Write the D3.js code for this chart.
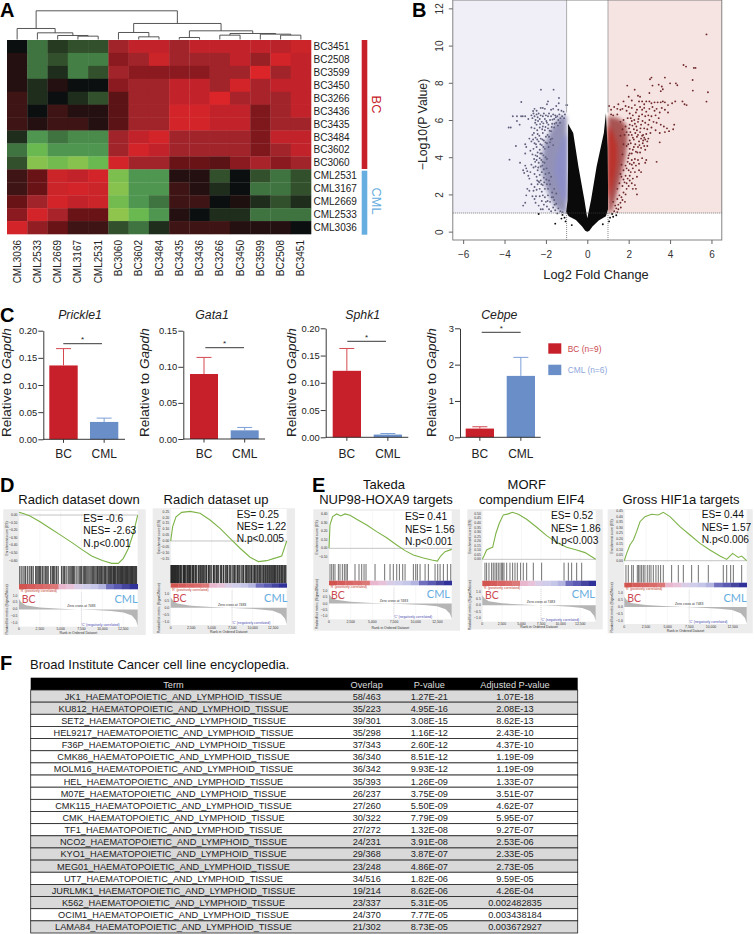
<!DOCTYPE html>
<html>
<head>
<meta charset="utf-8">
<script src="https://cdn.jsdelivr.net/npm/d3@7"></script>
<style>
  html, body { margin: 0; padding: 0; background: #fff; }
  svg { display: block; font-family: "Liberation Sans", Arial, sans-serif; }
</style>
</head>
<body>
<div id="chart"></div>
<script>
// panel A
const heatCols = ['CML3036', 'CML2533', 'CML2669', 'CML3167', 'CML2531', 'BC3060', 'BC3602', 'BC3484', 'BC3435', 'BC3436', 'BC3266', 'BC3450', 'BC3599', 'BC2508', 'BC3451'];
const heatRows = ['BC3451', 'BC2508', 'BC3599', 'BC3450', 'BC3266', 'BC3436', 'BC3435', 'BC3484', 'BC3602', 'BC3060', 'CML2531', 'CML3167', 'CML2669', 'CML2533', 'CML3036'];
const heatValues = [
  [0, -.45, -.2, -.3, -.3, .65, .85, .85, .65, .85, .85, .85, .85, .8, .9],
  [.1, -.45, -.3, -.5, -.5, .5, .65, .9, .65, .65, .65, .85, .6, .95, .85],
  [.1, -.45, -.15, -.5, -.3, .65, .5, .5, .5, .5, .65, .65, 1, .65, .85],
  [.1, -.15, .1, 0, 0, .5, .65, .65, .85, .85, .65, .95, .7, .85, .85],
  [.2, -.15, 0, -.15, -.3, .3, .65, .65, .85, .85, 1, .7, .7, .65, .85],
  [.2, 0, .2, .1, .1, .3, .65, .65, .95, .95, .85, .85, .45, .65, .85],
  [.2, .1, .2, .2, .1, .3, .65, .65, .95, .95, .85, .85, .45, .65, .65],
  [-.15, -.6, -.45, -.55, -.55, .65, .85, .95, .65, .65, .65, .65, .45, .85, .85],
  [-.45, -.8, -.6, -.6, -.6, .65, .95, .85, .65, .65, .65, .65, .45, .65, .85],
  [-.3, -.95, -.85, -.95, -.8, .95, .65, .65, .35, .35, .3, .5, .7, .5, .65],
  [.2, .35, .9, .85, .95, -.9, -.6, -.6, .1, .1, -.3, 0, -.3, -.45, -.3],
  [.2, .35, .9, .95, .9, -.95, -.6, -.6, .2, .1, -.15, 0, -.45, -.45, -.3],
  [.35, .65, .95, .85, .9, -.85, -.6, -.45, .2, .2, 0, .08, -.15, -.3, -.15],
  [.5, .95, .7, .35, .35, -1, -.8, -.6, .1, 0, -.15, -.15, -.45, -.45, -.45],
  [.95, .55, .35, .2, .2, -.3, -.45, -.15, .2, .2, .2, .1, .1, .1, 0],
];
// [height, left, right], leaves are column indexes
const dendrogram = [86,
  [33, 0, [20, 1, [12, 2, [10, 3, 4]]]],
  [48,
    [21, 5, [8, 6, 7]],
    [26, [6, 8, 9], [18, [13, 10, 11], [16, 12, [13, 13, 14]]]]]];

// panel B, all in log2 fold change / -log10 p
const blackV = [[0, 0], [-.1, .05], [-.25, .27], [-.55, .62], [-.9, .82], [-1.02, 1.05], [-.95, 1.7], [-.93, 3.5], [-.93, 5.8], [-.68, 5.3], [-.43, 3.5], [-.14, 1.7], [0, .72], [.18, 1.7], [.45, 3.5], [.8, 5.3], [.9, 6.36], [.98, 4.5], [1, 2.5], [1, 1.2], [.9, .82], [.55, .6], [.25, .27], [.1, .05]];
const blueCloud = [[-1, 6.25], [-1.4, 6.1], [-1.8, 5.4], [-2.1, 4.6], [-2.25, 3.5], [-2.05, 2.5], [-1.7, 1.6], [-1.35, 1.1], [-1, 1]];
const blueCore = [[-1, 5.3], [-1.2, 5], [-1.45, 4.2], [-1.6, 3.3], [-1.4, 2.4], [-1.2, 1.8], [-1, 1.5]];
const redCloud = [[1, 6.2], [1.5, 6.1], [1.85, 5.8], [1.95, 5], [1.85, 4], [1.6, 2.8], [1.38, 1.8], [1.2, 1.1], [1, 1]];
const redCore = [[1, 5.8], [1.25, 5.3], [1.45, 4.6], [1.45, 3.8], [1.3, 2.8], [1.12, 2], [1, 1.6]];
const blackSpecks = [[-1.55, .43], [-2.35, .95], [-1.2, .9], [-1.1, .75], [-1.25, .7], [-1.05, .55], [1.1, .75], [1.25, .8], [1.4, .88], [1.05, .55], [1.2, .95], [.75, .4], [-.75, .35]];
const downPoints = [
  [-2.24, 7.63], [-1.63, 7.63], [-3.19, 6.97], [-1.37, 7.18], [-1.38, 6.9], [-1.02, 6.8], [-.97, 6.8], [-1.9, 7], [-1.95, 6.85], [-1.5, 6.75], [-2.05, 6.6], [-2.15, 6.65], [-2.25, 6.65], [-2.45, 6.5], [-2.55, 6.6], [-1.75, 6.55], [-1.65, 6.6], [-1.4, 6.55], [-1.25, 6.5], [-1.15, 6.45],
  [-3.8, 5.6], [-3.7, 5.6], [-3.6, 6.2], [-3.4, 6.2], [-3.4, 5.95], [-3.2, 6.2], [-3.12, 6.2], [-3, 6.2], [-3.27, 5.75], [-3.45, 4.6], [-3.76, 3.87], [-3.25, 3.7], [-3, 4.7], [-2.95, 4.55], [-3, 4.2], [-3, 3.55], [-2.95, 3.4], [-3.1, 3.3], [-3.05, 3.15], [-2.9, 3.25], [-2.85, 3], [-2.75, 3.2], [-2.8, 2.85], [-2.7, 2.55], [-2.9, 2.3], [-2.8, 2.2], [-2.95, 1.95], [-3.1, 1.4], [-3, 1.55], [-2.65, 1.9], [-2.6, 2.2], [-2.55, 1.75], [-2.3, 1.9], [-2.35, 1.4], [-2.25, 1.2],
  [-2.7, 6.25], [-2.65, 6.1], [-2.6, 6.35], [-2.55, 6.2], [-2.5, 6], [-2.45, 6.3], [-2.4, 6.15], [-2.35, 6.35], [-2.3, 6.05], [-2.25, 6.25], [-2.2, 5.9], [-2.15, 6.2], [-2.1, 6.35], [-2.05, 6.05], [-2, 6.25], [-1.95, 5.85], [-1.9, 6.2], [-1.85, 6.35], [-1.8, 6], [-1.75, 6.2], [-1.7, 5.8], [-1.65, 6.3], [-1.6, 6.05], [-1.55, 6.25], [-1.5, 5.85], [-1.45, 6.2], [-1.4, 6], [-1.35, 6.3], [-1.3, 6.1], [-2.85, 6.05], [-2.45, 5.75], [-2.3, 5.6], [-2.55, 5.55], [-2.7, 5.6], [-2.15, 5.65], [-2.05, 5.45], [-1.9, 5.55], [-1.75, 5.4], [-1.6, 5.6],
  [-2.8, 5], [-2.7, 4.85], [-2.65, 5.2], [-2.55, 4.75], [-2.5, 5.05], [-2.45, 4.55], [-2.4, 5.25], [-2.35, 4.85], [-2.3, 4.4], [-2.25, 5], [-2.2, 4.65], [-2.15, 5.3], [-2.1, 4.9], [-2.05, 4.45], [-2, 5.1], [-1.95, 4.75], [-1.85, 5.1], [-1.8, 4.8], [-1.7, 5], [-1.65, 4.65], [-2.75, 4.35], [-2.65, 4.15], [-2.6, 4.45], [-2.5, 4.1], [-2.45, 3.85], [-2.4, 4.25], [-2.35, 3.7], [-2.3, 3.95], [-2.25, 3.5], [-2.2, 4.2], [-2.15, 3.75], [-2.1, 3.35], [-2.7, 3.6], [-2.6, 3.45], [-2.55, 3.1], [-2.5, 3.5], [-2.45, 2.95], [-2.4, 3.3], [-2.35, 2.7], [-2.3, 3.05], [-2.25, 2.75], [-2.2, 3.2], [-2.15, 2.5], [-2.1, 2.9], [-2.05, 2.3], [-2.55, 2.4], [-2.45, 2.25], [-2.4, 2.55], [-2.3, 2.3], [-2.2, 2.15], [-2.15, 1.95], [-2.05, 1.85], [-2, 1.6], [-2.1, 1.45], [-1.95, 1.35], [-1.9, 1.95], [-1.85, 1.2], [-1.8, 1.6], [-1.75, 1.1], [-1.65, 1.3], [-1.55, 1.15], [-1.45, .98], [-1.7, 2.1], [-1.65, 1.85], [-1.5, 1.5], [-1.9, 2.3], [-1.8, 2.55],
  [-2.62, 6.48], [-2.52, 5.85], [-2.38, 5.95], [-2.42, 5.45], [-2.28, 5.78], [-2.18, 5.5], [-2.12, 5.82], [-2.02, 5.62], [-1.98, 5.95], [-1.88, 5.75], [-1.82, 5.42], [-1.72, 5.62], [-1.68, 6.02], [-1.58, 5.8], [-1.52, 6.15], [-1.42, 5.7], [-1.32, 5.85], [-1.22, 6.2], [-1.12, 6.1], [-1.08, 6.3], [-2.62, 4.95], [-2.58, 5.3], [-2.48, 4.7], [-2.42, 4.95], [-2.32, 5.15], [-2.27, 4.7], [-2.17, 4.95], [-2.12, 4.55], [-2.02, 4.8], [-1.92, 5.2], [-1.87, 4.55], [-1.77, 4.95], [-2.57, 3.9], [-2.52, 3.75], [-2.42, 4.05], [-2.37, 3.45], [-2.27, 4.2], [-2.22, 3.85], [-2.17, 3.55], [-2.12, 4.1], [-2.07, 3.7], [-2.02, 4], [-1.97, 3.4], [-1.95, 3.9], [-2.02, 3.1], [-1.98, 2.8], [-2.08, 2.65], [-2.22, 2.55], [-2.32, 2.65], [-2.42, 2.75], [-1.95, 2.55], [-1.85, 2.75], [-1.85, 3.15], [-1.75, 2.95], [-1.72, 1.85], [-1.6, 1.7], [-1.92, 1.65], [-1.58, 1.45], [-1.4, 1.25], [-1.3, 1.1], [-1.2, 1.05], [-1.5, 2.05], [-1.6, 2.3], [-2.5, 1.55], [-2.48, 1.9], [-2.2, 1.65], [-2.15, 1.2]
];
const upPoints = [
  [5.76, 10.6], [4.65, 8.96], [4.77, 8.87], [5.15, 8.8], [5.23, 8.8], [3.03, 8.19], [3.1, 8.28], [3.75, 8.28], [4, 7.97], [4.28, 7.97], [4.35, 7.87], [5.09, 8.15], [5.1, 7.58], [5.83, 7.49], [5.76, 6.99], [1.93, 7.85], [2.29, 7.63], [3.15, 7.85], [3.6, 7.8], [3.65, 7.65], [3.55, 7.55], [3.45, 7.9], [3, 7.45], [2.45, 7.3], [2.55, 7.25], [2, 7.25], [2.15, 7.05], [1.75, 7], [2.5, 7], [2.65, 7], [2.75, 6.85], [2.85, 7], [3, 7], [3.1, 6.9], [3.25, 6.95], [3.4, 6.95], [3.55, 6.95], [3.65, 7], [3.75, 6.95], [3.9, 6.8], [4.1, 6.9], [4.25, 7], [4.6, 7], [4.7, 6.85], [4.8, 6.8],
  [1.3, 6.7], [1.5, 6.85], [1.7, 6.6], [1.85, 6.75], [2, 6.7], [2.15, 6.65], [2.3, 6.8], [2.4, 6.55], [2.55, 6.7], [2.65, 6.55], [2.75, 6.65], [2.85, 6.45], [3, 6.6], [3.15, 6.7], [3.25, 6.5], [3.35, 6.6], [3.5, 6.4], [3.6, 6.65], [3.75, 6.55], [3.9, 6.4], [2.05, 6.35], [2.2, 6.25], [2.35, 6.4], [2.5, 6.2], [2.65, 6.3], [2.8, 6.2], [2.95, 6.25], [3.1, 6.2], [3.3, 6.25], [3.45, 6.1],
  [3.2, 5.9], [3.35, 5.85], [3.55, 5.75], [3.7, 5.65], [3.85, 5.55], [4.2, 5.75], [4.15, 5.5], [3.95, 5.4], [3.75, 5.35], [3.5, 5.3], [3.3, 5.45], [3.1, 5.6], [2.95, 5.75], [2.8, 5.85], [2.6, 5.75], [2.45, 5.9], [2.3, 5.8], [2.15, 5.95], [2.05, 5.75], [2.25, 5.5], [2.4, 5.45], [2.55, 5.35], [2.7, 5.2], [2.85, 5.25], [2.95, 5], [2.8, 4.95], [2.7, 4.9], [2.6, 5], [2.5, 4.85], [2.4, 5.1], [2.25, 4.95], [2.15, 5.2], [2.05, 4.9], [3.5, 4.8], [3.05, 5.3],
  [2.9, 4.6], [2.8, 4.4], [2.75, 4.6], [2.6, 4.5], [2.55, 4.25], [2.45, 4.55], [2.35, 4.3], [2.25, 4.55], [2.15, 4.2], [2.05, 4.45], [2, 4.1], [2.3, 3.9], [2.45, 3.85], [2.15, 3.85], [2.05, 3.65], [1.95, 3.75], [2.85, 3.85], [2.8, 3.7], [3.35, 3.75], [2.6, 3.2], [2.5, 3.3], [2.3, 3.2], [2.2, 3.4], [2.1, 3.2], [2, 3.3], [1.9, 3.4], [1.85, 3], [1.95, 2.85], [1.8, 2.65], [2.15, 2.6], [2.3, 2.5], [2.2, 2.3], [2.4, 2], [1.9, 2.3], [1.75, 2.1], [1.7, 2.45], [1.65, 1.85], [1.55, 1.95], [1.6, 1.55], [1.5, 1.45], [1.45, 1.75], [1.4, 1.25], [1.35, 1.4], [1.3, 1.1], [1.25, 1.6],
  [1.75, 6], [1.85, 5.65], [1.9, 5.35], [1.8, 5.2], [1.75, 4.7], [1.9, 4.6], [1.7, 4.15], [1.85, 3.55], [1.75, 3.3], [1.6, 3.1], [1.65, 3.6], [1.55, 2.6], [1.45, 2.3], [1.6, 5.9], [1.7, 5.5], [1.6, 5.15], [1.25, 6.25], [1.15, 6.3], [1.45, 6.3],
  [1.95, 6.1], [2.02, 5.55], [2.1, 6.1], [2.18, 5.7], [2.27, 6], [2.37, 5.65], [2.47, 6.05], [2.57, 5.55], [2.67, 5.95], [2.75, 5.55], [2.9, 5.5], [3, 6], [2, 5.2], [2.08, 5.35], [2.2, 5.05], [2.32, 5.3], [2.45, 5.2], [2.65, 5.15], [2.75, 5.05], [1.98, 4.7], [2.1, 4.75], [2.2, 4.4], [2.32, 4.7], [2.42, 4.25], [2.52, 4.65], [2.68, 4.75], [2.9, 4.85], [2.05, 4.2], [1.98, 3.95], [2.15, 3.6], [2.25, 3.7], [2.35, 3.55], [2.5, 3.65], [2.65, 3.95], [1.9, 2.6], [2.05, 2.75], [2, 2.45], [1.85, 2], [1.7, 1.7], [1.75, 2.8], [1.65, 2.95], [1.5, 1.2], [1.62, 1.3], [1.82, 1.6], [1.45, 1.05], [2.05, 3], [2.2, 2.85], [2.4, 2.95], [2.35, 2.3], [1.9, 6.5], [1.6, 6.55], [1.45, 6.6], [1.15, 6.55], [1.05, 6.75]
];
const volcanoXTicks = [-6, -4, -2, 0, 2, 4, 6];
const volcanoYTicks = [0, 2, 4, 6, 8, 10, 12];

// panel C
const barGenes = ['Prickle1', 'Gata1', 'Sphk1', 'Cebpe'];
const barGroups = ['BC', 'CML'];
const barValues = [[.136, .032], [.09, .012], [.122, .005], [.24, 1.69]];
const barErrors = [[.167, .039], [.113, .016], [.163, .007], [.29, 2.2]];
const barMaxima = [.2, .15, .2, 3];
const barTicks = [[0, .05, .1, .15, .2], [0, .05, .1, .15], [0, .05, .1, .15, .2], [0, 1, 2, 3]];
const legendLabels = ['BC (n=9)', 'CML (n=6)'];

// panels D and E
const rankTicks = [0, 2500, 5000, 7500, 10000, 12500];
const rankedMetricRanks = [0, 300, 800, 2500, 5000, 7000, 9000, 11000, 12500, 13500, 14000, 14200];
const rankedMetricValues = [.75, .5, .3, .14, .05, 0, -.05, -.12, -.22, -.45, -.8, -1.2];
const bandColors = ['#d2544f', '#d55c5a', '#d86463', '#da6c6c', '#dc7878', '#e8b6cd', '#e8c2d8', '#d8cce6', '#cfcdea', '#c6c6e8', '#b4b4e0', '#6f6fbe', '#5a5ab2', '#45459f', '#31319a'];

const radichDownRanks = [0, 520, 1320, 2520, 3720, 5040, 6320, 7520, 8720, 10000, 11120, 11920, 12520, 13120, 13720, 14240];
const radichDownES = [.035, .02, -.013, -.088, -.175, -.268, -.36, -.452, -.54, -.6, -.636, -.636, -.57, -.44, -.24, 0];
const radichDownHits = [100, 350, 600, 800, 1050, 1300, 1500, 1700, 2000, 2150, 2300, 2450, 2600, 2800, 3000, 3200, 3350, 3500, 3800, 4000, 4150, 4300, 4500, 4700, 5100, 5300, 5450, 5650, 5900, 6100, 6250, 6400, 6550, 6700, 6950, 7200, 7350, 7500, 7700, 7850, 8000, 8150, 8300, 8500, 8650, 8800, 8950, 9100, 9250, 9400, 9500, 9650, 9800, 9900, 10050, 10200, 10300, 10400, 10550, 10700, 10800, 10900, 11000, 11100, 11250, 11350, 11450, 11550, 11650, 11800, 11900, 12000, 12100, 12200, 12300, 12400, 12500, 12600, 12700, 12800, 12900, 13000, 13100, 13200, 13300, 13400, 13500, 13600, 13700, 13800, 13900, 14000, 14100];
const radichUpRanks = [0, 240, 650, 1340, 2360, 3580, 4800, 6020, 7240, 8460, 9680, 10700, 11700, 12930, 13540, 13820, 14150];
const radichUpES = [0, .122, .207, .244, .253, .236, .179, .108, .023, -.062, -.139, -.176, -.168, -.142, -.128, -.071, 0];
const radichUpHits = [30, 110, 180, 260, 340, 430, 500, 590, 660, 750, 830, 920, 1000, 1120, 1210, 1300, 1500, 1580, 1670, 1750, 1850, 2000, 2080, 2200, 2290, 2380, 2470, 2650, 2730, 2810, 2980, 3060, 3180, 3400, 3480, 3650, 3730, 3900, 3990, 4150, 4300, 4380, 4600, 4680, 4800, 4950, 5200, 5280, 5400, 5600, 5680, 5850, 6100, 6180, 6400, 6480, 6700, 6850, 6930, 7150, 7300, 7500, 7700, 7780, 7950, 8150, 8230, 8400, 8600, 8800, 8880, 9100, 9250, 9330, 9500, 9650, 9800, 9880, 10050, 10200, 10280, 10400, 10550, 10650, 10800, 10900, 11000, 11150, 11300, 11400, 11550, 11650, 11800, 11900, 12050, 12150, 12300, 12400, 12550, 12650, 12750, 12850, 13000, 13100, 13250, 13350, 13500, 13600, 13700, 13850, 13950, 14050];
const takedaRanks = [0, 115, 420, 880, 1350, 1850, 2420, 3190, 4350, 5500, 6650, 7810, 8770, 9730, 10880, 11850, 12500, 12880, 13380, 14150];
const takedaES = [0, .275, .373, .404, .38, .404, .388, .341, .275, .196, .125, .039, -.027, -.078, -.114, -.137, -.149, -.09, -.039, -.012];
const takedaHits = [115, 310, 500, 690, 1080, 1270, 1540, 1770, 1960, 2120, 3000, 3460, 3770, 4040, 4270, 5310, 6420, 7040, 7420, 7810, 8120, 8500, 8770, 9730, 10000, 10190, 10500, 11080, 11460, 12230, 12540, 12810, 13190, 13650, 14040];
const morfRanks = [0, 210, 550, 980, 1320, 1740, 2170, 2680, 3320, 3830, 4600, 5660, 6940, 8210, 9490, 10770, 12040, 13110, 14470];
const morfES = [0, .037, .103, .121, .132, .287, .397, .489, .5, .518, .496, .441, .353, .261, .184, .132, .103, .074, 0];
const morfHits = [340, 550, 850, 1190, 1400, 1620, 1830, 2040, 2260, 2470, 2600, 2770, 3110, 3530, 3870, 4170, 4470, 4890, 5230, 5660, 6510, 7570, 10430, 10980, 11400, 12040, 12680];
const grossRanks = [0, 270, 650, 1040, 1420, 1810, 2380, 3150, 3920, 4500, 5270, 6420, 7580, 8730, 9880, 11040, 11810, 12500, 13150, 13540, 14120];
const grossES = [0, .066, .142, .187, .263, .353, .399, .42, .414, .438, .399, .308, .233, .157, .097, .042, .012, .066, .03, .042, 0];
const grossHits = [190, 460, 850, 1040, 1500, 1650, 1810, 2000, 2190, 2380, 2650, 2880, 3080, 3350, 3650, 3920, 4190, 4500, 5460, 6230, 6810, 7770, 8540, 9690, 11420, 11810, 12270, 12580, 13540];

const gseaStats = [
  ['ES= -0.6', 'NES= -2.63', 'N.p<0.001'],
  ['ES= 0.25', 'NES= 1.22', 'N.p<0.005'],
  ['ES= 0.41', 'NES= 1.56', 'N.p<0.001'],
  ['ES= 0.52', 'NES= 1.86', 'N.p<0.003'],
  ['ES= 0.44', 'NES= 1.57', 'N.p<0.006'],
];

// panel F
const tableTerms = ['JK1', 'KU812', 'SET2', 'HEL9217', 'F36P', 'CMK86', 'MOLM16', 'HEL', 'M07E', 'CMK115', 'CMK', 'TF1', 'NCO2', 'KYO1', 'MEG01', 'UT7', 'JURLMK1', 'K562', 'OCIM1', 'LAMA84'];
const tableOverlap = ['58/463', '35/223', '39/301', '35/298', '37/343', '36/340', '36/342', '35/393', '26/237', '27/260', '30/322', '27/272', '24/231', '29/368', '23/248', '34/516', '19/214', '23/337', '24/370', '21/302'];
const tablePValue = ['1.27E-21', '4.95E-16', '3.08E-15', '1.16E-12', '2.60E-12', '8.51E-12', '9.93E-12', '1.26E-09', '3.75E-09', '5.50E-09', '7.79E-09', '1.32E-08', '3.91E-08', '3.87E-07', '4.86E-07', '1.82E-06', '8.62E-06', '5.31E-05', '7.77E-05', '8.73E-05'];
const tableAdjusted = ['1.07E-18', '2.08E-13', '8.62E-13', '2.43E-10', '4.37E-10', '1.19E-09', '1.19E-09', '1.33E-07', '3.51E-07', '4.62E-07', '5.95E-07', '9.27E-07', '2.53E-06', '2.33E-05', '2.73E-05', '9.59E-05', '4.26E-04', '0.002482835', '0.003438184', '0.003672927'];
const tableShaded = [1, 1, 0, 0, 0, 0, 0, 0, 0, 0, 0, 0, 1, 1, 1, 0, 1, 1, 0, 1];

const red = '#c8202a';
const blue = '#6a8ec8';

const svg = d3
  .select('#chart')
  .append('svg')
  .attr('width', 754)
  .attr('height', 934)
  .attr('viewBox', '0 0 754 934');

const defs = svg.append('defs');
defs
  .append('filter')
  .attr('id', 'soft')
  .attr('x', '-20%')
  .attr('y', '-20%')
  .attr('width', '140%')
  .attr('height', '140%')
  .append('feGaussianBlur')
  .attr('stdDeviation', 2.2);

const panelLetter = (letter, x, y) => {
  svg
    .append('text')
    .attr('x', x)
    .attr('y', y)
    .attr('font-size', 20)
    .attr('font-weight', 'bold')
    .text(letter);
};

panelLetter('A', 0, 17);
panelLetter('B', 412, 17);
panelLetter('C', 0, 322);
panelLetter('D', 0, 492);
panelLetter('E', 312, 492);
panelLetter('F', 0, 670);

// ---- A: heatmap
const heatColor = d3
  .scaleLinear()
  .domain([-1, -.8, -.6, -.45, -.3, -.15, 0, .1, .2, .35, .5, .65, .85, 1])
  .range(['#8fc54c', '#6ab850', '#4f9650', '#3f7440', '#33502c', '#1f2d1c', '#0c0f10', '#241010', '#3e1414', '#691316', '#8a1a1f', '#a1242a', '#c2232a', '#dc2528']);

const heatX = d3.scaleBand().domain(heatCols).range([7, 311]);
const heatY = d3.scaleBand().domain(d3.range(heatRows.length)).range([40, 234]);

const heat = svg.append('g').attr('id', 'heatmap');
heatValues.forEach((row, r) => {
  heat
    .selectAll(null)
    .data(row)
    .enter()
    .append('rect')
    .attr('x', (d, c) => heatX(heatCols[c]))
    .attr('y', heatY(r))
    .attr('width', heatX.bandwidth() + .3)
    .attr('height', heatY.bandwidth() + .3)
    .attr('fill', (d) => heatColor(d));
});

svg
  .append('g')
  .selectAll('text')
  .data(heatRows)
  .enter()
  .append('text')
  .attr('x', 313.5)
  .attr('y', (d, i) => heatY(i) + heatY.bandwidth() / 2 + 3.5)
  .attr('font-size', 10)
  .attr('fill', '#222')
  .text((d) => d);

svg
  .append('g')
  .selectAll('text')
  .data(heatCols)
  .enter()
  .append('text')
  .attr('transform', (d) => `translate(${heatX(d) + heatX.bandwidth() / 2 + 3.5},240) rotate(-90)`)
  .attr('text-anchor', 'end')
  .attr('font-size', 10)
  .attr('fill', '#222')
  .text((d) => d);

// dendrogram, height unit is a third of a pixel
const dendroY = d3.scaleLinear().domain([0, 86]).range([39.5, 10.8]);
const dendroG = svg.append('g').attr('fill', 'none').attr('stroke', '#444').attr('stroke-width', .9);
const drawBranch = (node) => {
  if (typeof node === 'number') {
    return { x: heatX(heatCols[node]) + heatX.bandwidth() / 2, h: 0 };
  }
  const [h, a, b] = node;
  const left = drawBranch(a);
  const right = drawBranch(b);
  dendroG
    .append('path')
    .attr('d', `M${left.x},${dendroY(left.h)}V${dendroY(h)}H${right.x}V${dendroY(right.h)}`);
  return { x: (left.x + right.x) / 2, h };
};
drawBranch(dendrogram);

// group bars at the side of the heatmap
svg.append('rect').attr('x', 361.7).attr('y', 40).attr('width', 5.6).attr('height', 129).attr('fill', red);
svg.append('rect').attr('x', 361.7).attr('y', 170.7).attr('width', 5.6).attr('height', 64).attr('fill', '#66ade0');
svg
  .append('text')
  .attr('transform', 'translate(372,104.5) rotate(90)')
  .attr('text-anchor', 'middle')
  .attr('font-size', 12.8)
  .attr('fill', red)
  .text('BC');
svg
  .append('text')
  .attr('transform', 'translate(372,201) rotate(90)')
  .attr('text-anchor', 'middle')
  .attr('font-size', 12.8)
  .attr('fill', '#66ade0')
  .text('CML');

// ---- B: volcano
const vx = d3.scaleLinear().domain([-6.5, 6.5]).range([452.8, 721.8]);
const vy = d3.scaleLinear().domain([-.45, 12.45]).range([240, 0]);
const volcanoArea = d3.line().x((d) => vx(d[0])).y((d) => vy(d[1]));

svg.append('rect').attr('x', vx(-6.5)).attr('y', vy(12.45)).attr('width', vx(-1) - vx(-6.5)).attr('height', vy(1) - vy(12.45)).attr('fill', '#f0eff8');
svg.append('rect').attr('x', vx(1)).attr('y', vy(12.45)).attr('width', vx(6.5) - vx(1)).attr('height', vy(1) - vy(12.45)).attr('fill', '#f6e4e2');

const polygon = (pts, fill, opacity, soft) => {
  svg
    .append('path')
    .attr('d', volcanoArea(pts) + 'Z')
    .attr('fill', fill)
    .attr('opacity', opacity)
    .attr('filter', soft ? 'url(#soft)' : null);
};
const scatter = (pts, fill) => {
  svg
    .append('g')
    .selectAll('circle')
    .data(pts)
    .enter()
    .append('circle')
    .attr('cx', (d) => vx(d[0]))
    .attr('cy', (d) => vy(d[1]))
    .attr('r', .95)
    .attr('fill', fill);
};

polygon(blueCloud, '#7c7ba6', .8, true);
polygon(blueCore, '#8d8ec8', .95, true);
scatter(downPoints, '#5f5f7c');
polygon(redCloud, '#9a3a3a', .85, true);
polygon(redCore, '#bb302c', 1, true);
scatter(upPoints, '#702a2d');
polygon(blackV, '#0a0a0a', 1);
scatter(blackSpecks, '#0a0a0a');

svg
  .append('line')
  .attr('x1', vx(-6.5))
  .attr('x2', vx(6.5))
  .attr('y1', vy(1))
  .attr('y2', vy(1))
  .attr('stroke', '#444')
  .attr('stroke-width', .7)
  .attr('stroke-dasharray', '1 1');
[-1, 1].forEach((v) => {
  svg.append('line').attr('x1', vx(v)).attr('x2', vx(v)).attr('y1', vy(12.45)).attr('y2', vy(6.4)).attr('stroke', '#999').attr('stroke-width', .8);
  svg.append('line').attr('x1', vx(v)).attr('x2', vx(v)).attr('y1', vy(1)).attr('y2', vy(-.45)).attr('stroke', '#555').attr('stroke-width', .7).attr('stroke-dasharray', '1 1');
});
svg
  .append('rect')
  .attr('x', vx(-6.5))
  .attr('y', vy(12.45))
  .attr('width', vx(6.5) - vx(-6.5))
  .attr('height', vy(-.45) - vy(12.45))
  .attr('fill', 'none')
  .attr('stroke', '#777')
  .attr('stroke-width', .9);
// blur spills over the frame bottom edge at y = 1 only, so the white strip is kept clean
const vxAxis = svg
  .append('g')
  .attr('transform', 'translate(0,240)')
  .call(d3.axisBottom(vx).tickValues(volcanoXTicks).tickSize(4).tickPadding(7));
vxAxis.select('.domain').remove();
vxAxis.selectAll('line').attr('stroke', '#666');
vxAxis.selectAll('text').attr('font-size', 10).attr('font-family', 'Liberation Sans').attr('fill', '#333');

const vyAxis = svg
  .append('g')
  .attr('transform', 'translate(452.8,0)')
  .call(d3.axisLeft(vy).tickValues(volcanoYTicks).tickSize(4));
vyAxis.select('.domain').remove();
vyAxis.selectAll('line').attr('stroke', '#666');
vyAxis
  .selectAll('text')
  .attr('font-size', 10)
  .attr('font-family', 'Liberation Sans')
  .attr('fill', '#333')
  .attr('text-anchor', 'middle')
  .attr('dy', 0)
  .attr('transform', 'translate(-9.5,0) rotate(-90)')
  .attr('x', 0)
  .attr('y', 0);

svg
  .append('text')
  .attr('transform', 'translate(427,124.5) rotate(-90)')
  .attr('text-anchor', 'middle')
  .attr('font-size', 12.3)
  .attr('fill', '#222')
  .text('−Log10(P Value)');
svg
  .append('text')
  .attr('x', 596)
  .attr('y', 279)
  .attr('text-anchor', 'middle')
  .attr('font-size', 12.8)
  .attr('fill', '#222')
  .text('Log2 Fold Change');

// ---- C: bars, pixel frames for the four small charts
const barFrames = [
  { axisX: 43.3, right: 125, top: 330.7, base: 439.3, bars: [[49.3, 77.7], [90, 118.3]], sig: [63.3, 102, 343.7], labelX: 10.5, titleX: 80 },
  { axisX: 183.3, right: 265, top: 330.7, base: 439, bars: [[190, 218], [230.7, 258.7]], sig: [205.3, 244, 347.7], labelX: 149, titleX: 212 },
  { axisX: 325.7, right: 408.3, top: 328.3, base: 437.3, bars: [[332.7, 361], [373.7, 402]], sig: [347.3, 386, 341.3], labelX: 295.5, titleX: 362.7 },
  { axisX: 460, right: 540.7, top: 328.3, base: 437.3, bars: [[465.7, 494], [506.7, 535]], sig: [481.7, 520.7, 332.3], labelX: 436, titleX: 499.3 },
];

barGenes.forEach((gene, i) => {
  const f = barFrames[i];
  const y = d3.scaleLinear().domain([0, barMaxima[i]]).range([f.base, f.top]);
  const g = svg.append('g').attr('class', 'bar-chart');
  const tickFmt = barMaxima[i] > 1 ? d3.format('d') : d3.format('.2f');

  const colors = [red, blue];
  barGroups.forEach((group, k) => {
    const [x0, x1] = f.bars[k];
    const cx = (x0 + x1) / 2;
    g.append('rect')
      .attr('x', x0)
      .attr('y', y(barValues[i][k]))
      .attr('width', x1 - x0)
      .attr('height', f.base - y(barValues[i][k]))
      .attr('fill', colors[k]);
    g.append('path')
      .attr('d', `M${cx},${y(barValues[i][k])}V${y(barErrors[i][k])}M${cx - 7.5},${y(barErrors[i][k])}H${cx + 7.5}`)
      .attr('fill', 'none')
      .attr('stroke', k === 0 ? '#d4484f' : '#7c9fd8')
      .attr('stroke-width', 1);
    g.append('line').attr('x1', cx).attr('x2', cx).attr('y1', f.base).attr('y2', f.base + 3.5).attr('stroke', '#222').attr('stroke-width', .9);
    g.append('text')
      .attr('x', cx)
      .attr('y', 457.5)
      .attr('text-anchor', 'middle')
      .attr('font-size', 12)
      .attr('fill', '#222')
      .text(group);
  });

  g.append('line').attr('x1', f.axisX).attr('x2', f.right).attr('y1', f.base).attr('y2', f.base).attr('stroke', '#222').attr('stroke-width', .9);
  const axis = g
    .append('g')
    .attr('transform', `translate(${f.axisX},0)`)
    .call(d3.axisLeft(y).tickValues(barTicks[i]).tickFormat(tickFmt).tickSize(5).tickSizeOuter(0).tickPadding(1));
  axis.selectAll('line').attr('stroke', '#222').attr('stroke-width', .9);
  axis.select('.domain').attr('stroke', '#222').attr('stroke-width', .9);
  axis.selectAll('text').attr('font-size', 9.4).attr('font-family', 'Liberation Sans').attr('fill', '#222');

  g.append('line').attr('x1', f.sig[0]).attr('x2', f.sig[1]).attr('y1', f.sig[2]).attr('y2', f.sig[2]).attr('stroke', '#222').attr('stroke-width', .9);
  g.append('text')
    .attr('x', (f.sig[0] + f.sig[1]) / 2)
    .attr('y', f.sig[2] - 1.5)
    .attr('text-anchor', 'middle')
    .attr('font-size', 8)
    .attr('fill', '#222')
    .text('*');

  const label = g
    .append('text')
    .attr('transform', `translate(${f.labelX},382.7) rotate(-90)`)
    .attr('text-anchor', 'middle')
    .attr('font-size', 13.6)
    .attr('fill', '#222');
  label.append('tspan').text('Relative to ');
  label.append('tspan').attr('font-style', 'italic').text('Gapdh');

  g.append('text')
    .attr('x', f.titleX)
    .attr('y', 318.5)
    .attr('text-anchor', 'middle')
    .attr('font-size', 12.3)
    .attr('font-style', 'italic')
    .attr('fill', '#222')
    .text(gene);
});

legendLabels.forEach((name, i) => {
  const rowY = [343.3, 364.7][i];
  svg.append('rect').attr('x', 548.3).attr('y', rowY).attr('width', 13).attr('height', 10.4).attr('fill', i === 0 ? red : blue);
  svg
    .append('text')
    .attr('x', 567.7)
    .attr('y', rowY + 8.7)
    .attr('font-size', 8.4)
    .attr('fill', i === 0 ? '#cc4a52' : '#8ea8dc')
    .text(name);
});

// ---- D, E: enrichment plots
const gseaPanels = [
  { ranks: radichDownRanks, es: radichDownES, hits: radichDownHits, hitWidth: 1.25, esTicks: d3.range(-6, 1).map((d) => d / 10), frame: [3.3, 145.7, 509.3, 635], plot: [19, 137.7], esBox: [511, 566, .053, -.671], hitBox: [566, 584], bandBox: [584, 589.3], rankBox: [589.3, 626.7], statX: 83.3, statY: [522.3, 534.3, 546.7], bc: [21.7, 603.2], cml: [137.7, 602.7] },
  { ranks: radichUpRanks, es: radichUpES, hits: radichUpHits, hitWidth: 1.3, esTicks: d3.range(-3, 6).map((d) => d / 20), frame: [152.7, 295, 508.3, 634], plot: [170.7, 286.7], esBox: [509, 565, .273, -.205], hitBox: [565, 583.3], bandBox: [583.3, 587.7], rankBox: [587.7, 625], statX: 236.7, statY: [517.7, 530, 542.3], bc: [172.7, 602.2], cml: [287.3, 601.7] },
  { ranks: takedaRanks, es: takedaES, hits: takedaHits, hitWidth: .8, esTicks: d3.range(-1, 5).map((d) => d / 10), frame: [313.3, 460, 509.3, 630.7], plot: [329, 451.7], esBox: [510.7, 564, .442, -.184], hitBox: [564, 580.7], bandBox: [580.7, 585.3], rankBox: [585.3, 619.3], statX: 405, statY: [520, 532.7, 545], bc: [331, 599], cml: [450, 597.7] },
  { ranks: morfRanks, es: morfES, hits: morfHits, hitWidth: .8, esTicks: d3.range(0, 11).map((d) => d / 20), frame: [467.3, 602.7, 509.3, 629.3], plot: [482.3, 595.7], esBox: [510.7, 562.7, .535, -.037], hitBox: [562.7, 580.7], bandBox: [580.7, 586], rankBox: [586, 621.7], statX: 551, statY: [519.3, 531.7, 544], bc: [485, 599], cml: [595, 597.7] },
  { ranks: grossRanks, es: grossES, hits: grossHits, hitWidth: .8, esTicks: d3.range(0, 10).map((d) => d / 20), frame: [607.7, 752.7, 509.3, 633.3], plot: [624.3, 746.7], esBox: [510, 562.7, .459, -.018], hitBox: [565, 582.7], bandBox: [582.7, 587.3], rankBox: [587.3, 624], statX: 701.7, statY: [518.3, 530.7, 542.7], bc: [627.3, 602.3], cml: [746.7, 602.3] },
];

gseaPanels.forEach((p, idx) => {
  const g = svg.append('g').attr('class', 'gsea');
  const [fx0, fx1, fy0, fy1] = p.frame;
  const [px0, px1] = p.plot;
  const x = d3.scaleLinear().domain([0, d3.max(p.ranks)]).range([px0, px1]);

  g.append('rect').attr('x', fx0).attr('y', fy0).attr('width', fx1 - fx0).attr('height', fy1 - fy0).attr('fill', '#ececec');
  g.append('rect').attr('x', px0).attr('y', p.esBox[0]).attr('width', px1 - px0).attr('height', p.rankBox[1] - p.esBox[0]).attr('fill', '#fff');

  // faint grid
  rankTicks.forEach((t) => {
    g.append('line').attr('x1', x(t)).attr('x2', x(t)).attr('y1', p.esBox[0]).attr('y2', p.esBox[1]).attr('stroke', '#eee').attr('stroke-width', .5);
    g.append('line').attr('x1', x(t)).attr('x2', x(t)).attr('y1', p.rankBox[0]).attr('y2', p.rankBox[1]).attr('stroke', '#eee').attr('stroke-width', .5);
  });

  const esY = d3.scaleLinear().domain([p.esBox[2], p.esBox[3]]).range([p.esBox[0], p.esBox[1]]);
  g.append('line').attr('x1', px0).attr('x2', px1).attr('y1', esY(0)).attr('y2', esY(0)).attr('stroke', '#aaa').attr('stroke-width', .7);
  g.append('path')
    .attr('d', d3.line().x((d) => x(d[0])).y((d) => esY(d[1]))(d3.zip(p.ranks, p.es)))
    .attr('fill', 'none')
    .attr('stroke', '#7db347')
    .attr('stroke-width', 1.1);

  // hits
  g.append('g')
    .selectAll('line')
    .data(p.hits)
    .enter()
    .append('line')
    .attr('x1', (d) => x(d))
    .attr('x2', (d) => x(d))
    .attr('y1', p.hitBox[0])
    .attr('y2', p.hitBox[1])
    .attr('stroke', '#111')
    .attr('stroke-opacity', .75)
    .attr('stroke-width', p.hitWidth);

  // correlation band
  const bandX = d3.scaleBand().domain(d3.range(bandColors.length)).range([px0, px1]);
  g.append('g')
    .selectAll('rect')
    .data(bandColors)
    .enter()
    .append('rect')
    .attr('x', (d, i) => bandX(i))
    .attr('y', p.bandBox[0])
    .attr('width', bandX.bandwidth() + .3)
    .attr('height', p.bandBox[1] - p.bandBox[0])
    .attr('fill', (d) => d);

  // ranked metric
  const rankY = d3.scaleLinear().domain([1.45, -1.25]).range(p.rankBox);
  const rankX = d3.scaleLinear().domain([0, 14200]).range([px0, px1]);
  g.append('path')
    .attr('d', d3.area().x((d) => rankX(d[0])).y0(rankY(0)).y1((d) => rankY(d[1]))(d3.zip(rankedMetricRanks, rankedMetricValues)))
    .attr('fill', '#b5b5b5');
  g.append('line').attr('x1', x(7483)).attr('x2', x(7483)).attr('y1', p.rankBox[0] + 3).attr('y2', p.rankBox[1]).attr('stroke', '#aab').attr('stroke-width', .4).attr('stroke-dasharray', '1 1');

  // small grey captions of the GSEA plot
  const tiny = (txt, tx, ty, anchor, fill, rot) => {
    g.append('text')
      .attr('transform', `translate(${tx},${ty})${rot ? ' rotate(-90)' : ''}`)
      .attr('text-anchor', anchor)
      .attr('font-size', 3.4)
      .attr('fill', fill)
      .text(txt);
  };
  tiny('\'R\' (positively correlated)', px0 + 1, p.bandBox[1] + 2.8, 'start', '#c0392b');
  tiny('\'C\' (negatively correlated)', x(7483), p.rankBox[1] - 1, 'start', '#4a4ab0');
  tiny('Zero cross at 7483', x(7483), rankY(0) - 2, 'middle', '#333');
  tiny('Rank in Ordered Dataset', (px0 + px1) / 2, fy1 - 1.5, 'middle', '#333');
  tiny('Enrichment score (ES)', px0 - 11, (p.esBox[0] + p.esBox[1]) / 2, 'middle', '#333', true);
  tiny('Ranked list metric (Signal2Noise)', px0 - 11, (p.bandBox[0] + p.rankBox[1]) / 2 + 4, 'middle', '#333', true);
  rankTicks.forEach((t) => tiny(d3.format(',')(t), x(t), p.rankBox[1] + 3.5, 'middle', '#333'));
  p.esTicks.forEach((t) => tiny(d3.format('.2f')(t), px0 - 1.5, esY(t) + 1, 'end', '#333'));
  [-1, -.5, 0, .5, 1].forEach((t) => tiny(d3.format('.1f')(t), px0 - 1.5, rankY(t) + 1, 'end', '#333'));

  g.append('text').attr('x', p.bc[0]).attr('y', p.bc[1]).attr('font-size', 10.5).attr('font-family', 'Lato').attr('fill', '#cc4a52').text('BC');
  g.append('text').attr('x', p.cml[0]).attr('y', p.cml[1]).attr('text-anchor', 'end').attr('font-size', 11).attr('font-family', 'Lato').attr('fill', '#66ade0').text('CML');

  gseaStats[idx].forEach((s, k) => {
    g.append('text').attr('x', p.statX).attr('y', p.statY[k]).attr('font-size', 10.2).attr('fill', '#111').text(s);
  });
});

const headings = [
  ['Radich dataset down', 79, 504],
  ['Radich dataset up', 216, 504],
  ['Takeda', 384, 489],
  ['NUP98-HOXA9 targets', 386, 504],
  ['MORF', 526.7, 489],
  ['compendium EIF4', 531.7, 504],
  ['Gross HIF1a targets', 681, 504],
];
svg
  .append('g')
  .selectAll('text')
  .data(headings)
  .enter()
  .append('text')
  .attr('x', (d) => d[1])
  .attr('y', (d) => d[2])
  .attr('text-anchor', 'middle')
  .attr('font-size', 13)
  .attr('fill', '#111')
  .text((d) => d[0]);

// ---- F: table
svg
  .append('text')
  .attr('x', 30)
  .attr('y', 669)
  .attr('font-size', 13)
  .attr('fill', '#111')
  .text('Broad Institute Cancer cell line encyclopedia.');

const tableX = [30.7, 577.7];
const tableY = d3.scaleBand().domain(d3.range(tableTerms.length)).range([690, 933]);
const colCenters = [173.5, 366.7, 429.3, 515];
const headerLabels = ['Term', 'Overlap', 'P-value', 'Adjusted P-value'];

const table = svg.append('g').attr('id', 'table');
table.append('rect').attr('x', tableX[0]).attr('y', 677.7).attr('width', tableX[1] - tableX[0]).attr('height', 12.3).attr('fill', '#000');
headerLabels.forEach((label, i) => {
  table
    .append('text')
    .attr('x', colCenters[i])
    .attr('y', 687.5)
    .attr('text-anchor', 'middle')
    .attr('font-size', 9.2)
    .attr('fill', '#ddd')
    .text(label);
});

tableTerms.forEach((term, i) => {
  const rowY = tableY(i);
  table
    .append('rect')
    .attr('x', tableX[0])
    .attr('y', rowY)
    .attr('width', tableX[1] - tableX[0])
    .attr('height', tableY.bandwidth())
    .attr('fill', tableShaded[i] ? '#d9d9d9' : '#fff')
    .attr('stroke', '#222')
    .attr('stroke-width', .8);
  const cells = [`${term}_HAEMATOPOIETIC_AND_LYMPHOID_TISSUE`, tableOverlap[i], tablePValue[i], tableAdjusted[i]];
  cells.forEach((cell, k) => {
    table
      .append('text')
      .attr('x', colCenters[k])
      .attr('y', rowY + 9.5)
      .attr('text-anchor', 'middle')
      .attr('font-size', 9.2)
      .attr('fill', '#222')
      .text(cell);
  });
});
</script>
</body>
</html>
